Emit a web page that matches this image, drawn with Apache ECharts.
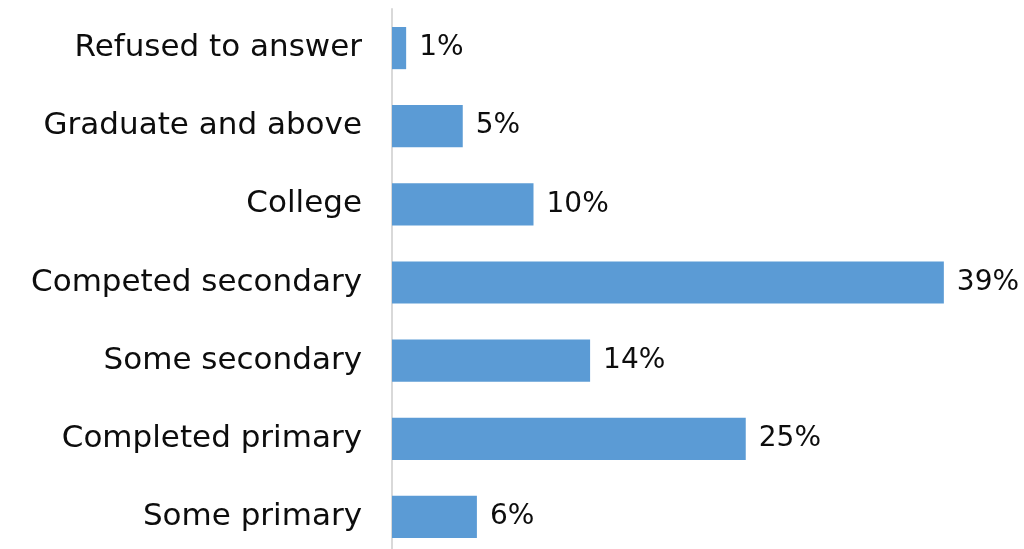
<!DOCTYPE html>
<html>
<head>
<meta charset="utf-8">
<script src="https://cdn.jsdelivr.net/npm/echarts@6/dist/echarts.min.js"></script>
<style>html,body{margin:0;padding:0;background:#fff;overflow:hidden;}#c{width:1024px;height:560px;}</style>
</head>
<body>
<div id="c"></div>
<script>
const categories = ["Refused to answer","Graduate and above","College","Competed secondary","Some secondary","Completed primary","Some primary"];
const values = [1, 5, 10, 39, 14, 25, 6];
const FONT = "'DejaVu Sans', sans-serif";
const chart = echarts.init(document.getElementById('c'), null, {renderer: 'canvas'});
chart.setOption({
  animation: false,
  backgroundColor: '#ffffff',
  grid: { left: 392, top: 9, width: 566, height: 547, containLabel: false },
  xAxis: { type: 'value', min: 0, max: 40, show: false, splitLine: { show: false } },
  yAxis: {
    type: 'category', data: categories, inverse: true,
    axisLine: { show: true, lineStyle: { color: '#d9d9d9', width: 2 } },
    axisTick: { show: false },
    axisLabel: { color: '#0d0d0d', fontSize: 31, fontFamily: FONT, margin: 30 }
  },
  series: [{
    type: 'bar', data: values, barCategoryGap: '46%',
    itemStyle: { color: '#5b9bd5' },
    label: { show: true, position: 'right', distance: 13, formatter: '{c}%', color: '#0d0d0d', fontSize: 28, fontFamily: FONT }
  }]
});
</script>
</body>
</html>
